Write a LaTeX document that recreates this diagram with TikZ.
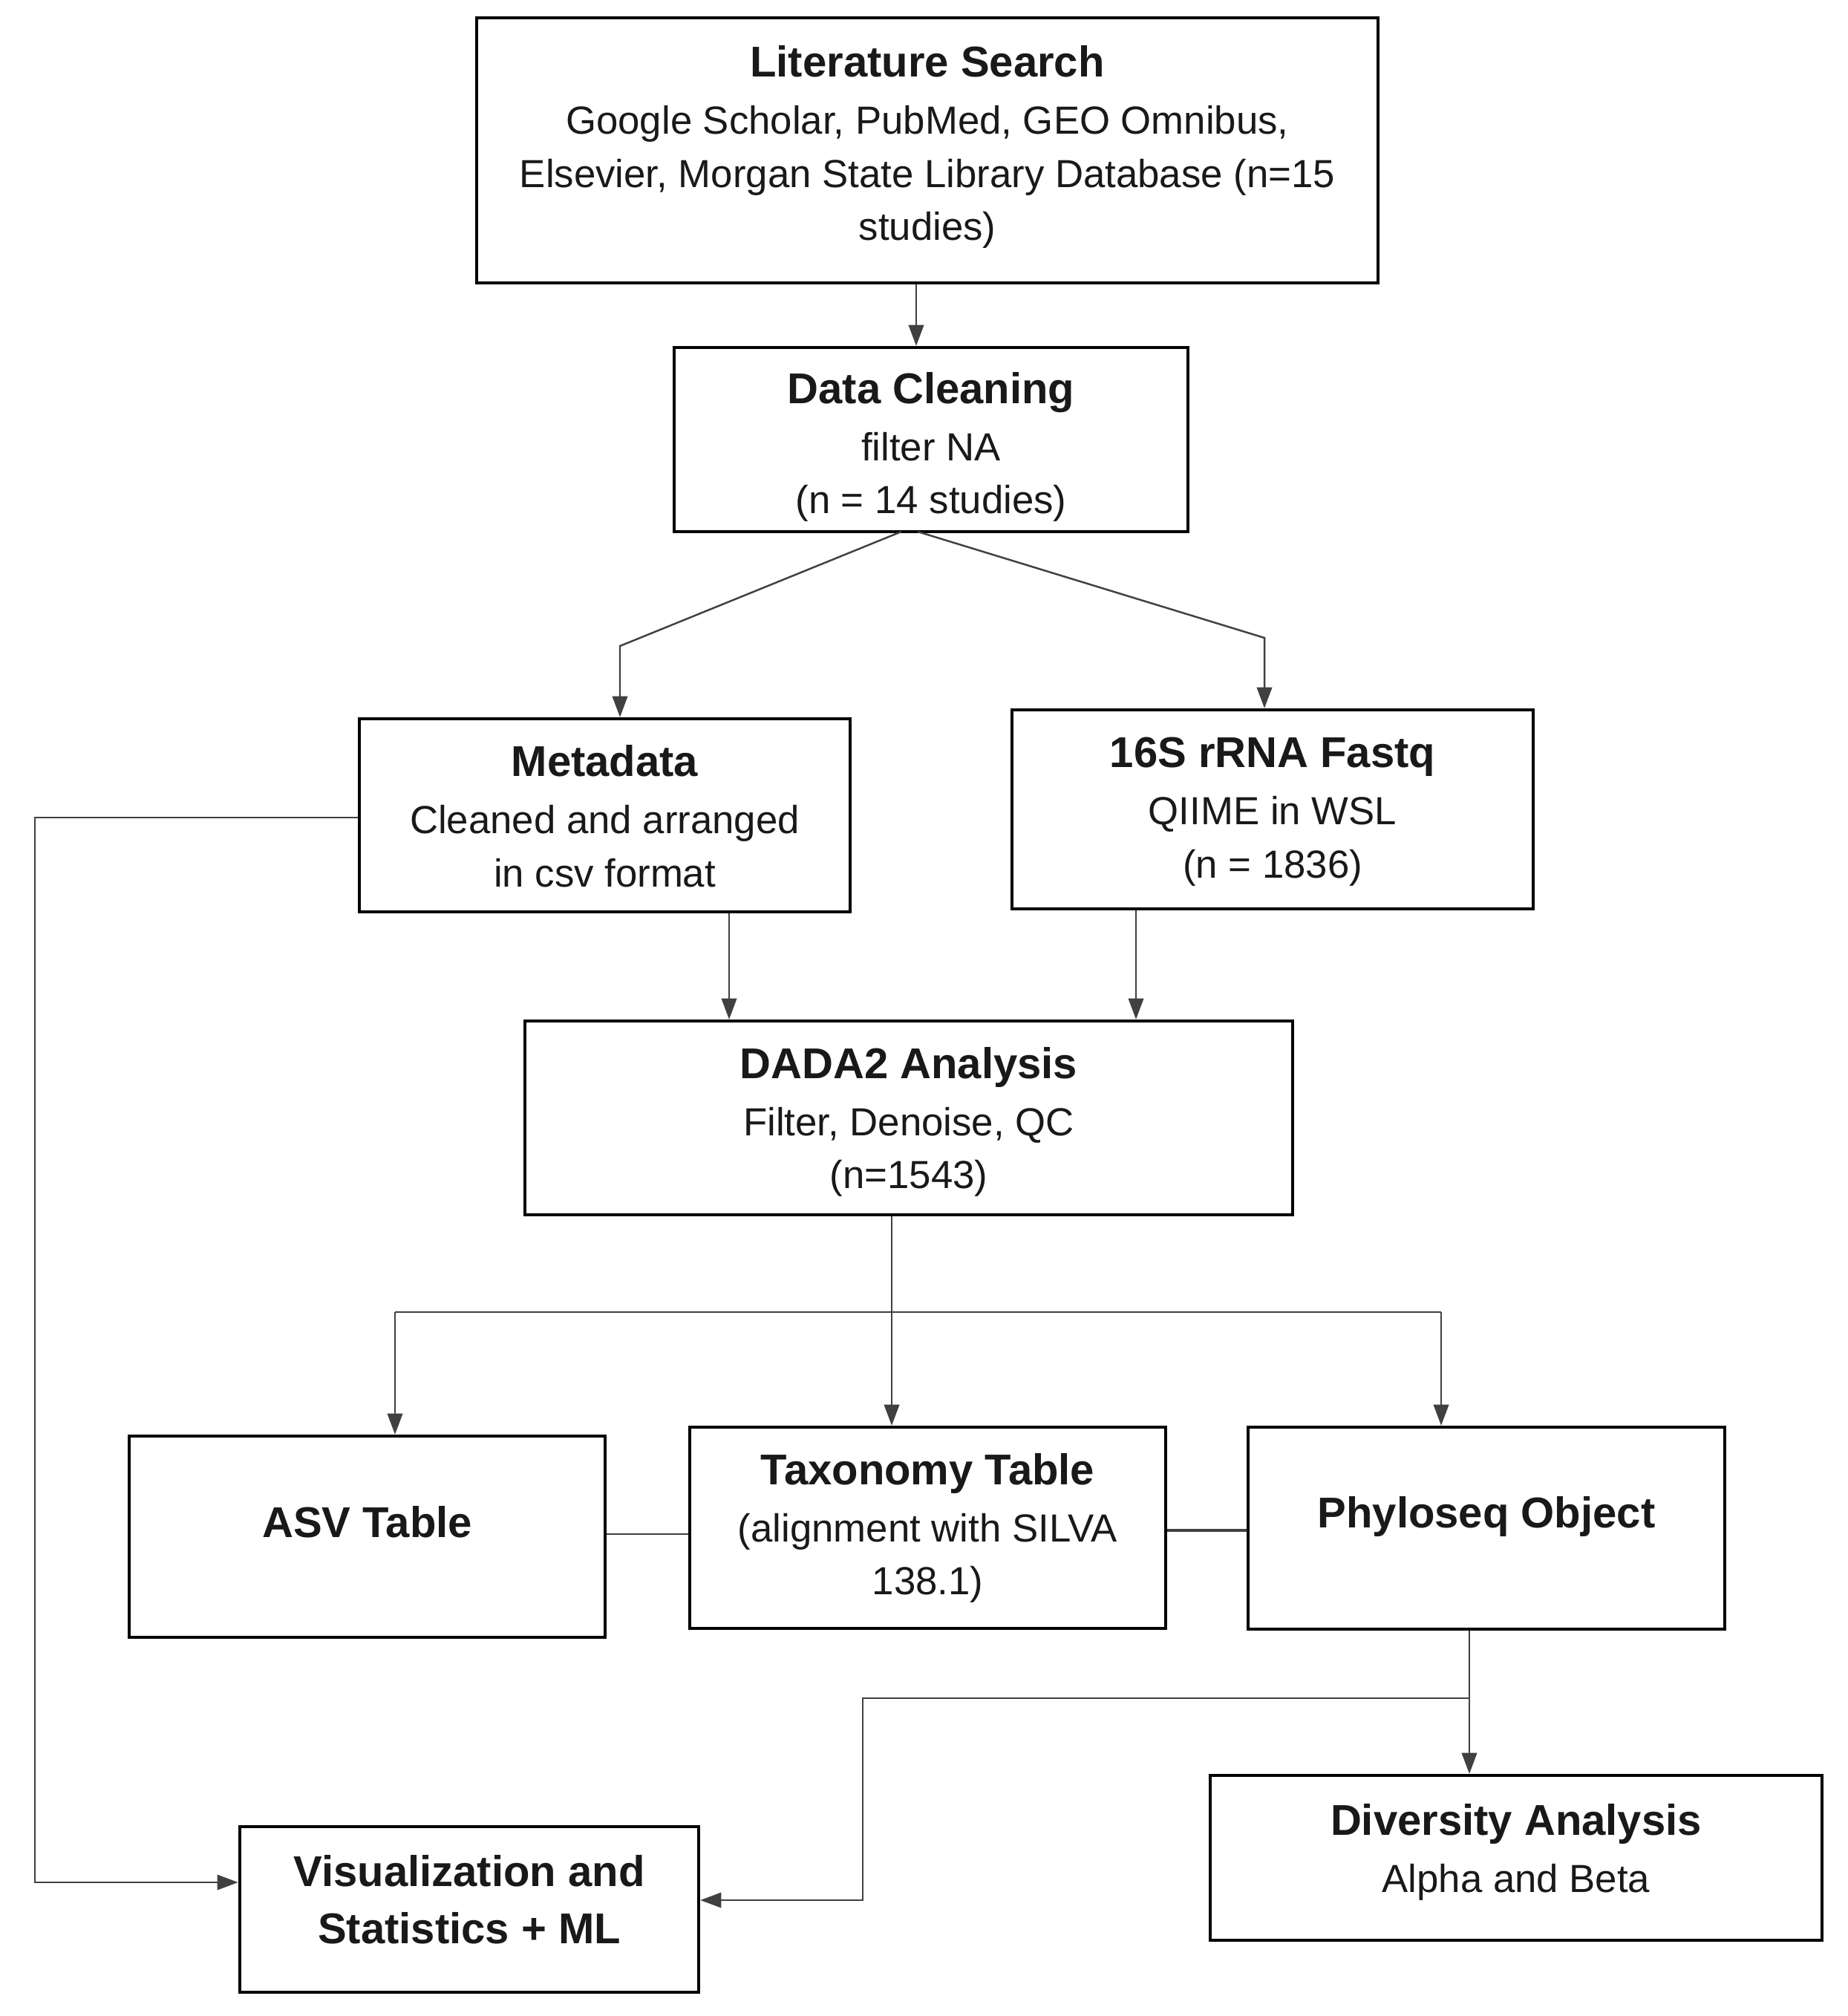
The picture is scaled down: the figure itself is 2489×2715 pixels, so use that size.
\documentclass[tikz,border=0pt]{standalone}
\usepackage{fontspec}
\setmainfont{Liberation Sans}
\usetikzlibrary{arrows.meta}
\newcommand\hdr[1]{{\fontsize{16.5}{20.4}\selectfont\bfseries #1}}
\tikzset{
  box/.style={draw=black, line width=1.2pt, inner sep=0pt, fill=white},
  txt/.style={align=center, inner sep=0pt, font=\fontsize{15}{20.4}\selectfont, text=black!90},
  conn/.style={draw=black!75, line width=0.7pt},
  arr/.style={conn, -{Triangle[length=8pt, width=5.8pt]}}
}
\begin{document}
\begin{tikzpicture}[x=0.01cm, y=-0.01cm]
\useasboundingbox (0,0) rectangle (2489,2715);
% boxes
\node[box, minimum width=12.14cm, minimum height=3.57cm] (lit) at (1249,202.5) {};
\node[box, minimum width=6.92cm, minimum height=2.48cm] (dc) at (1254,592) {};
\node[box, minimum width=6.61cm, minimum height=2.60cm] (meta) at (814.5,1098) {};
\node[box, minimum width=7.02cm, minimum height=2.68cm] (fq) at (1714,1090) {};
\node[box, minimum width=10.34cm, minimum height=2.61cm] (dada) at (1224,1505.5) {};
\node[box, minimum width=6.41cm, minimum height=2.71cm] (asv) at (494.5,2069.5) {};
\node[box, minimum width=6.41cm, minimum height=2.71cm] (tax) at (1249.5,2057.5) {};
\node[box, minimum width=6.42cm, minimum height=2.72cm] (phy) at (2002,2058) {};
\node[box, minimum width=6.18cm, minimum height=2.23cm] (vis) at (632,2571.5) {};
\node[box, minimum width=8.24cm, minimum height=2.22cm] (div) at (2042,2502) {};
% texts
\node[txt] (litT) at (1249,198) {\hdr{Literature Search}\\[1.5pt]Google Scholar, PubMed, GEO Omnibus,\\Elsevier, Morgan State Library Database (n=15\\studies)};
\node[txt] (dcT) at (1254,602) {\hdr{Data Cleaning}\\[1.5pt]filter NA\\(n = 14 studies)};
\node[txt] (metaT) at (814.5,1099) {\hdr{Metadata}\\[1.5pt]Cleaned and arranged\\in csv format};
\node[txt] (fqT) at (1714,1093) {\hdr{16S rRNA Fastq}\\[1.5pt]QIIME in WSL\\(n = 1836)};
\node[txt] (dadaT) at (1224,1511) {\hdr{DADA2 Analysis}\\[1.5pt]Filter, Denoise, QC\\(n=1543)};
\node[txt] (asvT) at (494.5,2050) {\hdr{ASV Table}};
\node[txt] (taxT) at (1249.5,2058) {\hdr{Taxonomy Table}\\[1.5pt](alignment with SILVA\\138.1)};
\node[txt] (phyT) at (2002,2042) {\hdr{Phyloseq Object}};
\node[txt] (visT) at (632,2558) {\hdr{Visualization and}\\[1.5pt]\hdr{Statistics + ML}};
\node[txt] (divT) at (2042,2494) {\hdr{Diversity Analysis}\\[1.5pt]Alpha and Beta};
% helper coordinates
\coordinate (xa) at (1234,0);
\coordinate (dcl) at (1214,716);
\coordinate (dcr) at (1236,716);
\coordinate (bl) at (835,870);
\coordinate (br) at (1703,859);
\coordinate (xm) at (982,0);
\coordinate (xf) at (1530,0);
\coordinate (xd) at (1201,0);
\coordinate (hl) at (532,1767);
\coordinate (hr) at (1941,1767);
\coordinate (xp) at (1979,0);
\coordinate (pj) at (1979,2287);
\coordinate (pk) at (1162,2287);
\coordinate (pl) at (1162,2559);
\coordinate (ma) at (47,1101);
\coordinate (mb) at (47,2535);
% connectors
\draw[arr] (xa |- lit.south) -- (xa |- dc.north);
\draw[arr] (dcl) -- (bl) -- (bl |- meta.north);
\draw[arr] (dcr) -- (br) -- (br |- fq.north);
\draw[arr] (xm |- meta.south) -- (xm |- dada.north);
\draw[arr] (xf |- fq.south) -- (xf |- dada.north);
\draw[arr] (xd |- dada.south) -- (xd |- tax.north);
\draw[conn] (hl) -- (hr);
\draw[arr] (hl) -- (hl |- asv.north);
\draw[arr] (hr) -- (hr |- phy.north);
\draw[conn] (asv.east |- 0,2066) -- (tax.west |- 0,2066);
\draw[conn, line width=1pt] (tax.east |- 0,2061) -- (phy.west |- 0,2061);
\draw[arr] (xp |- phy.south) -- (xp |- div.north);
\draw[arr] (pj) -- (pk) -- (pl) -- (pl -| vis.east);
\draw[arr] (ma -| meta.west) -- (ma) -- (mb) -- (mb -| vis.west);
\end{tikzpicture}
\end{document}
